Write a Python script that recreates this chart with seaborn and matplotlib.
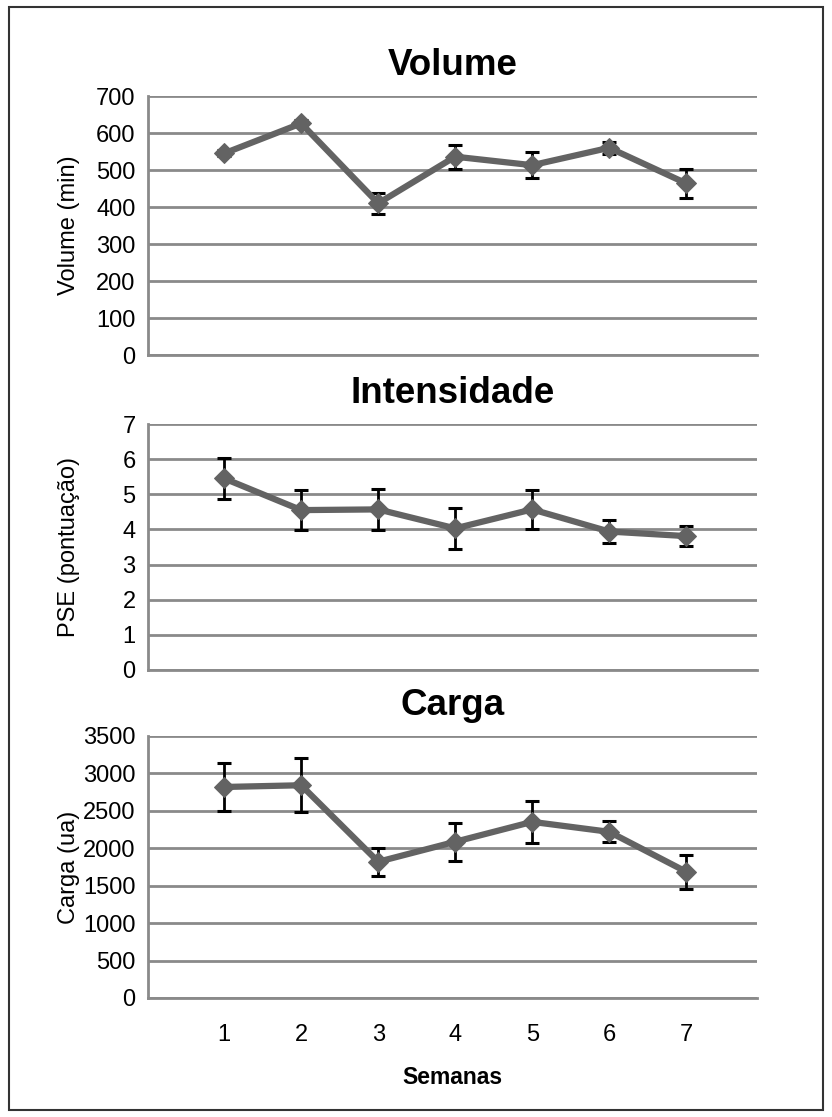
import matplotlib
matplotlib.use("Agg")
import matplotlib.pyplot as plt
from matplotlib.patches import Rectangle
import seaborn as sns
import pandas as pd

semanas = [1, 2, 3, 4, 5, 6, 7]

volume = [545, 626, 410, 536, 513, 560, 464]
volume_err = [8, 8, 28, 32, 35, 17, 40]

intensidade = [5.45, 4.55, 4.57, 4.03, 4.57, 3.94, 3.81]
intensidade_err = [0.58, 0.56, 0.58, 0.58, 0.55, 0.33, 0.29]

carga = [2819, 2842, 1820, 2087, 2353, 2220, 1687]
carga_err = [320, 360, 185, 255, 285, 140, 225]

titles = ["Volume", "Intensidade", "Carga"]
ylabels = ["Volume (min)", "PSE (pontuação)", "Carga (ua)"]
ymax = [700, 7, 3500]
ystep = [100, 1, 500]
xlabel = "Semanas"

sns.set_theme(style="white")
plt.rcParams['font.family'] = ['Liberation Sans', 'DejaVu Sans']

W, H = 832, 1117
fig = plt.figure(figsize=(W / 100, H / 100), dpi=100)

# axes boxes in pixels: (top, bottom)
boxes = [(96, 355), (424, 670), (736, 998)]
left_px, right_px = 148, 757

grid_col = "#8a8a8a"
line_col = "#636363"

series = [(volume, volume_err), (intensidade, intensidade_err), (carga, carga_err)]

for i, ((top, bot), (vals, errs)) in enumerate(zip(boxes, series)):
    ax = fig.add_axes([left_px / W, 1 - bot / H, (right_px - left_px) / W, (bot - top) / H])
    df = pd.DataFrame({"semana": semanas, "valor": vals})
    ax.errorbar(semanas, vals, yerr=errs, fmt="none", ecolor="black",
                elinewidth=2.0, capsize=5, capthick=2.2, zorder=3)
    sns.lineplot(data=df, x="semana", y="valor", ax=ax, color=line_col,
                 linewidth=4.5, marker="D", markersize=10,
                 markeredgecolor=line_col, zorder=4)
    ax.set_xlim(0.01, 7.92)
    ax.set_ylim(0, ymax[i])
    ax.set_yticks([k * ystep[i] for k in range(8)])
    ax.set_yticklabels([f"{k * ystep[i]:g}" for k in range(8)])
    ax.yaxis.grid(True, color=grid_col, linewidth=2.0)
    ax.xaxis.grid(False)
    ax.set_axisbelow(True)
    for s in ["top", "right"]:
        ax.spines[s].set_visible(False)
    for s in ["left", "bottom"]:
        ax.spines[s].set_color(grid_col)
        ax.spines[s].set_linewidth(2.0)
    ax.tick_params(axis="y", length=0, pad=9, labelsize=17, labelcolor="black")
    ax.set_ylabel(ylabels[i], fontsize=17, color="black")
    ax.yaxis.set_label_coords(-0.112, 0.5)
    ax.set_title(titles[i], fontsize=26.5, fontweight="bold", color="black", pad=15)
    if i < 2:
        ax.set_xticks([])
        ax.set_xlabel("")
    else:
        ax.set_xticks(semanas)
        ax.set_xticklabels([str(s) for s in semanas])
        ax.tick_params(axis="x", length=0, pad=19, labelsize=17, labelcolor="black")
        ax.set_xlabel(xlabel, fontsize=16.5, fontweight="bold", color="black", labelpad=14)

fig.add_artist(Rectangle((9 / W, 1 - 1110 / H), (823 - 9) / W, (1110 - 7) / H,
                         transform=fig.transFigure, fill=False,
                         edgecolor="#333333", linewidth=1.5))

fig.savefig("out.png", dpi=100)
